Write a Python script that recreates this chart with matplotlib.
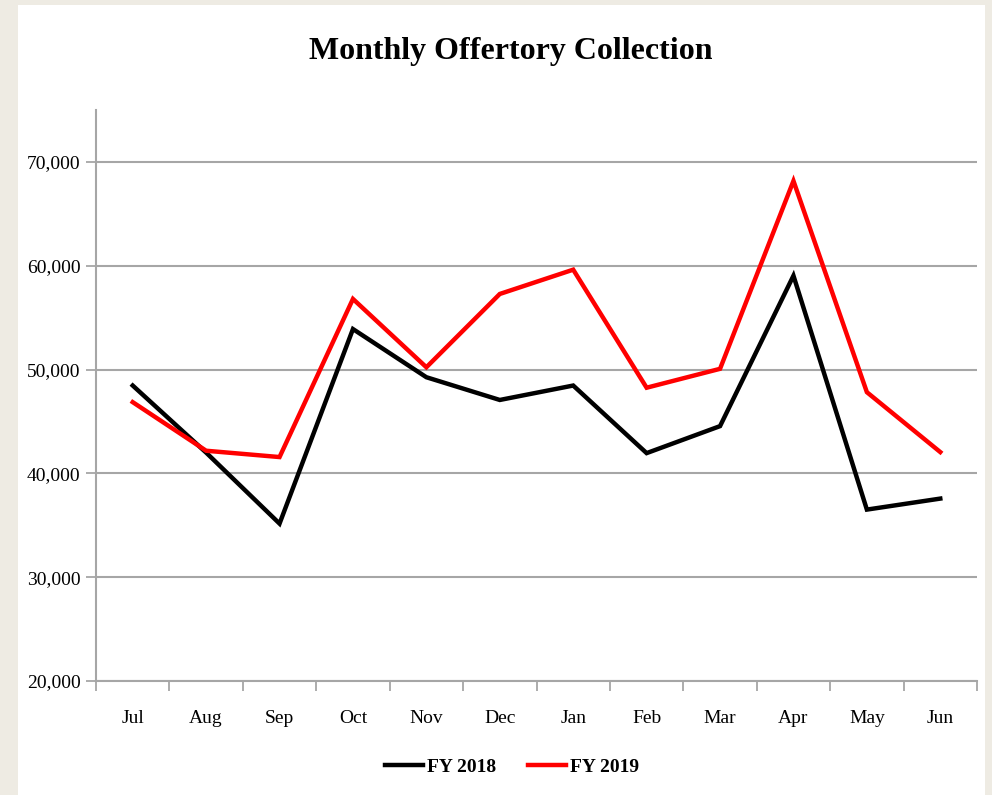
import matplotlib
matplotlib.use("Agg")
import matplotlib.pyplot as plt
from matplotlib.patches import Rectangle
from matplotlib.ticker import FuncFormatter, MultipleLocator

months = ["Jul", "Aug", "Sep", "Oct", "Nov", "Dec",
          "Jan", "Feb", "Mar", "Apr", "May", "Jun"]
fy2018 = [48460, 42000, 35160, 53900, 49260, 47070,
          48460, 41950, 44550, 59040, 36510, 37570]
fy2019 = [46860, 42180, 41570, 56800, 50220, 57280,
          59620, 48250, 50070, 68170, 47820, 42050]

BEIGE = "#eeebe3"
GRID = "#a6a6a6"
FONT = ["Liberation Serif", "DejaVu Serif"]

plt.rcParams["font.family"] = FONT

fig = plt.figure(figsize=(9.92, 7.95), dpi=100)
fig.patch.set_facecolor(BEIGE)
fig.add_artist(Rectangle((18 / 992, 0), 967 / 992, 790 / 795,
                         transform=fig.transFigure, facecolor="white",
                         edgecolor="none", zorder=0))

ax = fig.add_axes([96 / 992, 1 - 681 / 795, 881 / 992, 571 / 795])
ax.set_facecolor("white")

x = list(range(len(months)))
ax.plot(x, fy2018, color="black", lw=3.2, label="FY 2018", zorder=3,
        solid_joinstyle="miter")
ax.plot(x, fy2019, color="#ff0000", lw=3.2, label="FY 2019", zorder=4,
        solid_joinstyle="miter")

ax.set_xlim(-0.5, len(months) - 0.5)
ax.set_ylim(20000, 75000)
ax.yaxis.set_major_locator(MultipleLocator(10000))
ax.yaxis.set_major_formatter(FuncFormatter(lambda v, p: f"{int(v):,}"))
ax.grid(axis="y", color=GRID, lw=1.5)
ax.set_axisbelow(True)

# month labels centred in the category, tick marks on the boundaries
ax.set_xticks(x)
ax.set_xticklabels(months)
ax.tick_params(axis="x", which="major", length=0, pad=21, labelsize=14)
ax.set_xticks([i - 0.5 for i in range(len(months) + 1)], minor=True)
ax.tick_params(axis="x", which="minor", length=7, width=1.3, color=GRID,
               direction="out")
ax.tick_params(axis="y", length=7, width=1.3, color=GRID, labelsize=14,
               pad=4)

for side in ["top", "right"]:
    ax.spines[side].set_visible(False)
for side in ["left", "bottom"]:
    ax.spines[side].set_color(GRID)
    ax.spines[side].set_linewidth(1.5)

fig.text(511 / 992, 1 - 52 / 795, "Monthly Offertory Collection",
         ha="center", va="center", fontsize=23, fontweight="bold")

fig.legend(loc="center", bbox_to_anchor=(512 / 992, 1 - 767 / 795), ncol=2,
           frameon=False, handlelength=2.0, handletextpad=0.2,
           columnspacing=1.6, prop={"family": FONT, "weight": "bold",
                                    "size": 14})

fig.savefig("out.png", dpi=100, facecolor=fig.get_facecolor())
